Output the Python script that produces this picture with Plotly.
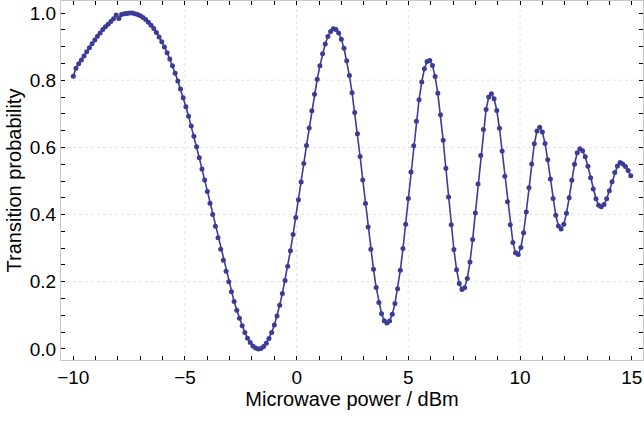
import numpy as np
import plotly.graph_objects as go

# Microwave power grid (dBm): 209 equally spaced settings from -10 dBm
power_start = -10.0
power_step = 0.12
n_points = 209
power = [round(power_start + power_step * i, 2) for i in range(n_points)]

# Transition probability
probability = [
    0.812, 0.836, 0.849, 0.860, 0.872, 0.885, 0.897, 0.909, 0.920, 0.931,
    0.941, 0.951, 0.959, 0.967, 0.975, 0.983, 0.994, 0.984, 0.996, 0.998,
    0.999, 1.000,
    1.000, 0.998, 0.996, 0.992, 0.987, 0.981, 0.973, 0.964, 0.954, 0.942,
    0.929, 0.915, 0.899, 0.882, 0.863, 0.843, 0.821, 0.798, 0.774, 0.748,
    0.721, 0.693, 0.664, 0.633, 0.602, 0.569, 0.536, 0.503, 0.469, 0.434,
    0.400, 0.365, 0.331, 0.297, 0.264, 0.231, 0.200, 0.170, 0.141, 0.115,
    0.091, 0.069, 0.049, 0.032, 0.019, 0.009, 0.003, 0.000,
    0.001, 0.007, 0.017, 0.031, 0.049, 0.071, 0.098, 0.130, 0.165, 0.204,
    0.246, 0.292, 0.341, 0.391, 0.444, 0.497, 0.552, 0.606, 0.658, 0.709,
    0.758, 0.803, 0.843, 0.879, 0.908, 0.930, 0.945, 0.953,
    0.951, 0.941, 0.922, 0.895, 0.858, 0.814, 0.763, 0.704, 0.641, 0.573,
    0.503, 0.433, 0.363, 0.297, 0.237, 0.183, 0.138, 0.105, 0.084, 0.077,
    0.083, 0.103, 0.135, 0.179, 0.234, 0.299, 0.371, 0.448, 0.527, 0.605,
    0.678, 0.742, 0.795, 0.834, 0.856,
    0.859, 0.844, 0.811, 0.761, 0.697, 0.621, 0.538, 0.452, 0.370, 0.296,
    0.236, 0.195, 0.177,
    0.182, 0.210, 0.259, 0.326, 0.405, 0.491, 0.576, 0.653, 0.713, 0.750,
    0.760, 0.745, 0.710, 0.657, 0.589, 0.514, 0.438, 0.370, 0.317, 0.286,
    0.281, 0.302, 0.346, 0.408, 0.480, 0.551, 0.611, 0.649,
    0.660, 0.646, 0.612, 0.563, 0.506, 0.448, 0.398, 0.366,
    0.357, 0.371, 0.404, 0.450, 0.502, 0.550, 0.584, 0.596,
    0.590, 0.572, 0.544, 0.510, 0.476, 0.447, 0.428,
    0.423, 0.430, 0.447, 0.471, 0.498, 0.525, 0.545, 0.555,
    0.551, 0.543, 0.531, 0.516,
]

x_tick_vals = [-10, -5, 0, 5, 10, 15]
y_tick_vals = [0.0, 0.2, 0.4, 0.6, 0.8, 1.0]
x_grid_vals = [-5, 0, 5, 10]
y_grid_vals = [0.2, 0.4, 0.6, 0.8]

line_color = "#3c3c98"
font_family = "Liberation Sans, Arial, Helvetica, sans-serif"
tick_size = 19
title_size = 20

fig = go.Figure()
fig.add_trace(go.Scatter(
    x=power, y=probability, mode="lines+markers",
    line=dict(color=line_color, width=1.6),
    marker=dict(color=line_color, size=5),
    showlegend=False, hoverinfo="x+y",
))

shapes = []
for gx in x_grid_vals:
    shapes.append(dict(type="line", xref="x", yref="paper", x0=gx, x1=gx, y0=0, y1=1,
                       line=dict(color="#e3e3e3", width=1, dash="3px,3px"), layer="below"))
for gy in y_grid_vals:
    shapes.append(dict(type="line", xref="paper", yref="y", x0=0, x1=1, y0=gy, y1=gy,
                       line=dict(color="#e3e3e3", width=1, dash="3px,3px"), layer="below"))

axis_common = dict(
    showline=True, linecolor="#c8c8c8", linewidth=1, mirror="allticks",
    ticks="inside", ticklen=4, tickwidth=1, tickcolor="black",
    showgrid=False, zeroline=False,
    tickfont=dict(family=font_family, size=tick_size, color="black"),
)

fig.update_layout(
    width=644, height=423,
    margin=dict(l=61, r=1, t=1, b=63),
    paper_bgcolor="white", plot_bgcolor="white",
    font=dict(family=font_family, size=tick_size, color="black"),
    shapes=shapes,
    xaxis=dict(
        range=[-10.551, 15.506], tickvals=x_tick_vals,
        minor=dict(dtick=1, tick0=0, ticks="inside", ticklen=4, tickcolor="black", showgrid=False),
        title=dict(text="Microwave power / dBm", font=dict(family=font_family, size=title_size, color="black"), standoff=4),
        **axis_common,
    ),
    yaxis=dict(
        range=[-0.033, 1.036], tickvals=y_tick_vals, tickformat=".1f",
        minor=dict(dtick=0.05, tick0=0, ticks="inside", ticklen=4, tickcolor="black", showgrid=False),
        title=dict(text="Transition probability", font=dict(family=font_family, size=title_size, color="black"), standoff=2),
        **axis_common,
    ),
)

fig.write_html("out.html")
